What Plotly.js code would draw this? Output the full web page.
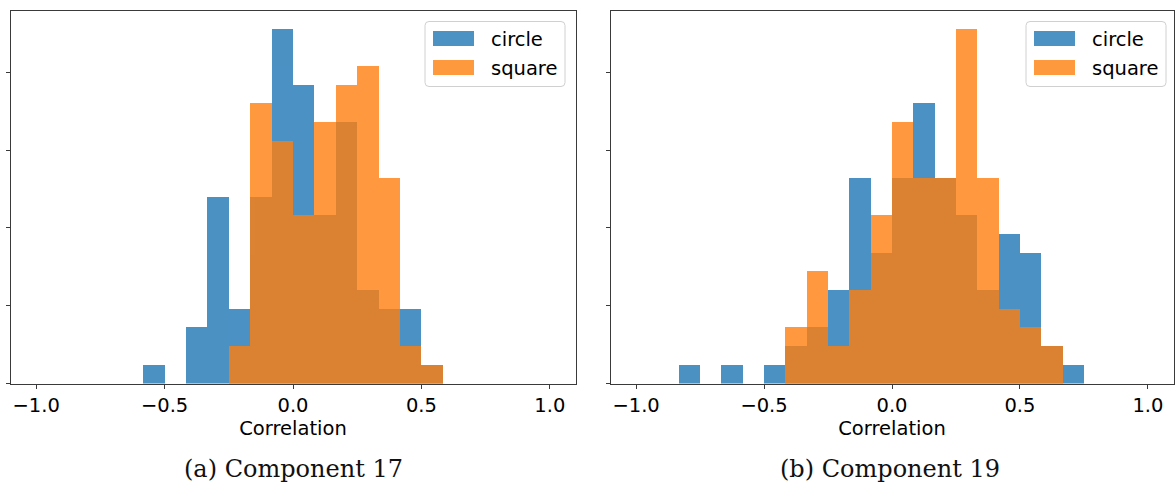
<!DOCTYPE html>
<html>
<head>
<meta charset="utf-8">
<script src="https://cdn.plot.ly/plotly-3.0.1.min.js"></script>
<style>html,body{margin:0;padding:0;background:#fff;}</style>
</head>
<body>
<div id="chart" style="width:1175px;height:486px;"></div>
<script>
// Histogram bins: left edges (bin width 1/12)
const binLeft = [-0.8333, -0.75, -0.6667, -0.5833, -0.5, -0.4167, -0.3333, -0.25, -0.1667, -0.0833,
                 0, 0.0833, 0.1667, 0.25, 0.3333, 0.4167, 0.5, 0.5833, 0.6667];
const binWidth = 1 / 12;
// Counts per bin (100 samples per series)
const circle17 = [0, 0, 0, 1, 0, 3, 10, 4, 10, 19, 16, 9, 14, 5, 4, 4, 1, 0, 0];
const square17 = [0, 0, 0, 0, 0, 0, 0, 2, 15, 13, 9, 14, 16, 17, 11, 2, 1, 0, 0];
const circle19 = [1, 0, 1, 0, 1, 2, 3, 5, 11, 7, 11, 15, 11, 9, 5, 8, 7, 2, 1];
const square19 = [0, 0, 0, 0, 0, 3, 6, 2, 5, 9, 14, 11, 11, 19, 11, 4, 3, 2, 0];
const seriesNames = ['circle', 'square'];
const captions = ['(a) Component 17', '(b) Component 19'];
const xTicks = [-1.0, -0.5, 0.0, 0.5, 1.0];
const yTicks = [0, 0.5, 1.0, 1.5, 2.0];

const colors = ['#1f77b4', '#ff7f0e'];
const W = 1175, H = 486;

function density(counts) {
  const n = counts.reduce((a, b) => a + b, 0);
  return counts.map(c => c / (n * binWidth));
}

function barTrace(counts, name, color, xa, ya) {
  return {
    type: 'bar', x: binLeft, y: density(counts), width: binWidth, offset: 0,
    name: name, marker: {color: color, line: {width: 0}}, opacity: 0.8,
    xaxis: xa, yaxis: ya, showlegend: false, hoverinfo: 'x+y'
  };
}

const data = [
  barTrace(circle17, seriesNames[0], colors[0], 'x', 'y'),
  barTrace(square17, seriesNames[1], colors[1], 'x', 'y'),
  barTrace(circle19, seriesNames[0], colors[0], 'x2', 'y2'),
  barTrace(square19, seriesNames[1], colors[1], 'x2', 'y2')
];

const px = x => x / W;
const py = y => 1 - y / H;

const tickFont = {family: 'DejaVu Sans', size: 19.5, color: '#000'};
const lineCol = '#3a3a3a';

function xAxis(domain, anchor) {
  return {
    domain: domain, anchor: anchor, range: [-1.1, 1.1],
    tickmode: 'array', tickvals: xTicks, tickformat: '.1f',
    ticks: 'outside', ticklen: 4, tickwidth: 1, tickcolor: lineCol,
    showline: true, linecolor: lineCol, linewidth: 1, mirror: true,
    showgrid: false, zeroline: false, tickfont: tickFont,
    title: {text: 'Correlation', font: tickFont, standoff: 2},
    automargin: false
  };
}
function yAxis(domain, anchor) {
  return {
    domain: domain, anchor: anchor, range: [0, 2.394],
    tickmode: 'array', tickvals: yTicks, showticklabels: false,
    ticks: 'outside', ticklen: 4, tickwidth: 1, tickcolor: lineCol,
    showline: true, linecolor: lineCol, linewidth: 1, mirror: true,
    showgrid: false, zeroline: false, automargin: false
  };
}

const yDom = [py(383.5), py(11)];
const layout = {
  width: W, height: H,
  margin: {l: 0, r: 0, t: 0, b: 0, pad: 0},
  paper_bgcolor: '#fff', plot_bgcolor: '#fff',
  barmode: 'overlay', bargap: 0, showlegend: false,
  xaxis: xAxis([px(10.5), px(575.5)], 'y'),
  yaxis: yAxis(yDom, 'x'),
  xaxis2: xAxis([px(610.5), px(1173.5)], 'y2'),
  yaxis2: yAxis(yDom, 'x2'),
  shapes: [], annotations: []
};

// Legends (matplotlib-style: rounded box, wide patches)
function addLegend(left) {
  const top = 21.5, w = 140, h = 65, r = 4;
  const x0 = left, x1 = left + w, y0 = top, y1 = top + h;
  const path = `M${px(x0 + r)},${py(y0)} L${px(x1 - r)},${py(y0)} Q${px(x1)},${py(y0)} ${px(x1)},${py(y0 + r)} ` +
    `L${px(x1)},${py(y1 - r)} Q${px(x1)},${py(y1)} ${px(x1 - r)},${py(y1)} L${px(x0 + r)},${py(y1)} ` +
    `Q${px(x0)},${py(y1)} ${px(x0)},${py(y1 - r)} L${px(x0)},${py(y0 + r)} Q${px(x0)},${py(y0)} ${px(x0 + r)},${py(y0)} Z`;
  layout.shapes.push({type: 'path', xref: 'paper', yref: 'paper', path: path,
    fillcolor: 'rgba(255,255,255,0.8)', line: {color: '#d0d0d0', width: 1}, layer: 'above'});
  seriesNames.forEach((name, i) => {
    const rowTop = 31 + i * 29;
    layout.shapes.push({type: 'rect', xref: 'paper', yref: 'paper',
      x0: px(left + 8), x1: px(left + 49), y0: py(rowTop + 15), y1: py(rowTop),
      fillcolor: colors[i], opacity: 0.8, line: {width: 0}, layer: 'above'});
    layout.annotations.push({xref: 'paper', yref: 'paper', x: px(left + 64), y: py(rowTop + 8),
      xanchor: 'left', yanchor: 'middle', showarrow: false, text: name,
      font: {family: 'DejaVu Sans', size: 19.5, color: '#000'}});
  });
}
addLegend(425);
addLegend(1026);

// Sub-figure captions
[[293, captions[0]], [890, captions[1]]].forEach(([cx, t]) => {
  layout.annotations.push({xref: 'paper', yref: 'paper', x: px(cx), y: py(468.5),
    xanchor: 'center', yanchor: 'middle', showarrow: false, text: t,
    font: {family: 'DejaVu Serif', size: 24, color: '#111'}});
});

Plotly.newPlot('chart', data, layout, {displayModeBar: false, staticPlot: true});
</script>
</body>
</html>
